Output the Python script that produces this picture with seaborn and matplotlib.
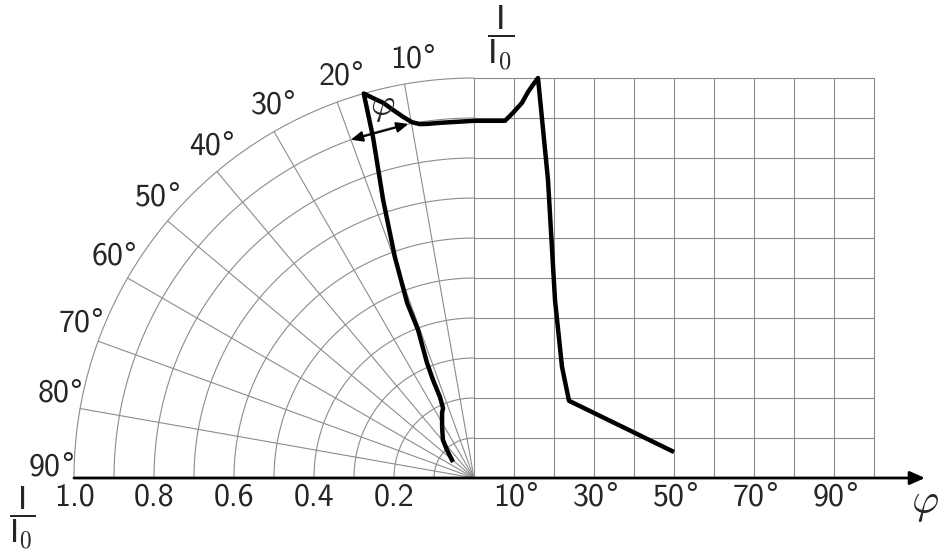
import numpy as np
import pandas as pd
import matplotlib
matplotlib.use("Agg")
import matplotlib.pyplot as plt
import seaborn as sns

# ---------------- data ----------------
# left part of the curve: polar (angle from vertical, degrees; relative intensity)
left_angle = [52.7, 44.0, 39.2, 32.1, 26.2, 23.9, 22.8, 22.7, 22.2, 20.7, 20.9, 19.7,
              18.1, 16.5, 16.0, 14.9, 13.6, 12.4, 11.1, 9.9, 8.7, 7.6, 5.5, 0.0]
left_r = [0.066, 0.097, 0.123, 0.150, 0.181, 0.191, 0.220, 0.266, 0.311, 0.396, 0.468, 0.587,
          0.731, 0.889, 1.000, 0.983, 0.965, 0.942, 0.920, 0.903, 0.895, 0.893, 0.892, 0.893]
# right part of the curve: cartesian (phi in degrees, I/I0)
right_phi = [0, 7.75, 9.75, 12.0, 13.5, 14.75, 16.0, 18.5, 20.25, 22.0, 23.75, 50.0]
right_I = [0.893, 0.893, 0.913, 0.938, 0.965, 0.983, 1.000, 0.745, 0.445, 0.278, 0.193, 0.065]

polar_angles = [10, 20, 30, 40, 50, 60, 70, 80, 90]
polar_radii = [0.1, 0.2, 0.3, 0.4, 0.5, 0.6, 0.7, 0.8, 0.9, 1.0]
radius_labels = ["1.0", "0.8", "0.6", "0.4", "0.2"]
radius_label_vals = [1.0, 0.8, 0.6, 0.4, 0.2]
phi_grid = [0, 10, 20, 30, 40, 50, 60, 70, 80, 90, 100]
phi_labels = [10, 30, 50, 70, 90]
I_grid = [0.1, 0.2, 0.3, 0.4, 0.5, 0.6, 0.7, 0.8, 0.9, 1.0]
arrow_angles = (20.0, 10.5)
arrow_r = 0.9

# ---------------- style ----------------
sns.set_style("white")
plt.rcParams["font.family"] = ["cmss10"]
plt.rcParams["mathtext.fontset"] = "cm"
plt.rcParams["axes.formatter.use_mathtext"] = True

fig = plt.figure(figsize=(9.41, 5.52), dpi=100)
ax = fig.add_axes([0, 0, 1, 1])

gc = "#8c8c8c"
glw = 0.8
fs = 23


def pol(a_deg, r):
    a = np.radians(np.asarray(a_deg, dtype=float))
    r = np.asarray(r, dtype=float)
    return -r * np.sin(a), r * np.cos(a)


def deg_label(x, y, v, va):
    t = ax.annotate(str(v), xy=(float(x), float(y)), xytext=(-3.8, 0),
                    textcoords="offset points", ha="center", va=va, fontsize=fs)
    ax.annotate("\u00b0", xy=(1, 1), xycoords=t, xytext=(0.2, 1.0),
                textcoords="offset points", ha="left", va="top",
                fontsize=fs, family="Liberation Sans")


# polar grid
t = np.linspace(0, 90, 200)
for r in polar_radii:
    x, y = pol(t, np.full_like(t, r))
    ax.plot(x, y, color=gc, lw=glw, zorder=1)
for a in polar_angles[:-1]:
    x, y = pol([a, a], [0, 1.0])
    ax.plot(x, y, color=gc, lw=glw, zorder=1)

# cartesian grid
for p in phi_grid:
    ax.plot([p / 100, p / 100], [0, 1.0], color=gc, lw=glw, zorder=1)
for v in I_grid:
    ax.plot([0, 1.0], [v, v], color=gc, lw=glw, zorder=1)

# axis with arrow
ax.annotate("", xy=(1.1275, 0), xytext=(-1.0, 0),
            arrowprops=dict(arrowstyle="-|>,head_length=0.45,head_width=0.2",
                            lw=2, color="black", mutation_scale=20,
                            shrinkA=0, shrinkB=0), zorder=3)

# curve
lx, ly = pol(left_angle, left_r)
rx = np.array(right_phi) / 100
ry = np.array(right_I)
df = pd.DataFrame({"x": np.concatenate([lx, rx]), "y": np.concatenate([ly, ry])})
sns.lineplot(data=df, x="x", y="y", sort=False, estimator=None, color="black",
             lw=3.2, ax=ax, zorder=4, solid_joinstyle="round", solid_capstyle="butt")
ax.set_xlim(-474 / 400, (941 - 474) / 400)
ax.set_ylim(-(552 - 478) / 400, 478 / 400)
ax.axis("off")

# double arrow indicating angle
(x1, x2), (y1, y2) = pol(list(arrow_angles), [arrow_r, arrow_r])
ax.annotate("", xy=(x2, y2), xytext=(x1, y1),
            arrowprops=dict(arrowstyle="<|-|>,head_length=0.5,head_width=0.22",
                            lw=1.5, color="black", mutation_scale=14,
                            shrinkA=0, shrinkB=0), zorder=5)
px, py = pol(13.8, 0.955)
ax.text(float(px), float(py), r"$\varphi$", fontsize=27, ha="center", va="center", zorder=6)

# angle labels around arc
for a in polar_angles:
    x, y = pol(a - 1.5, 1.06)
    deg_label(x, y, a, "center")

# radius labels
for lab, v in zip(radius_labels, radius_label_vals):
    ax.text(-v, -0.01, lab, fontsize=fs, ha="center", va="top")

# phi labels
for p in phi_labels:
    deg_label(p / 100, -0.01, p, "top")

# axis titles
ax.text(0.0675, 1.1, r"$\dfrac{\mathsf{I}}{\mathsf{I}_0}$", fontsize=25,
        ha="center", va="center")
ax.text(-1.13, -0.1, r"$\dfrac{\mathsf{I}}{\mathsf{I}_0}$", fontsize=24,
        ha="center", va="center")
ax.text(1.1275, -0.07, r"$\varphi$", fontsize=30, ha="center", va="center")

fig.savefig("out.png", dpi=100)
